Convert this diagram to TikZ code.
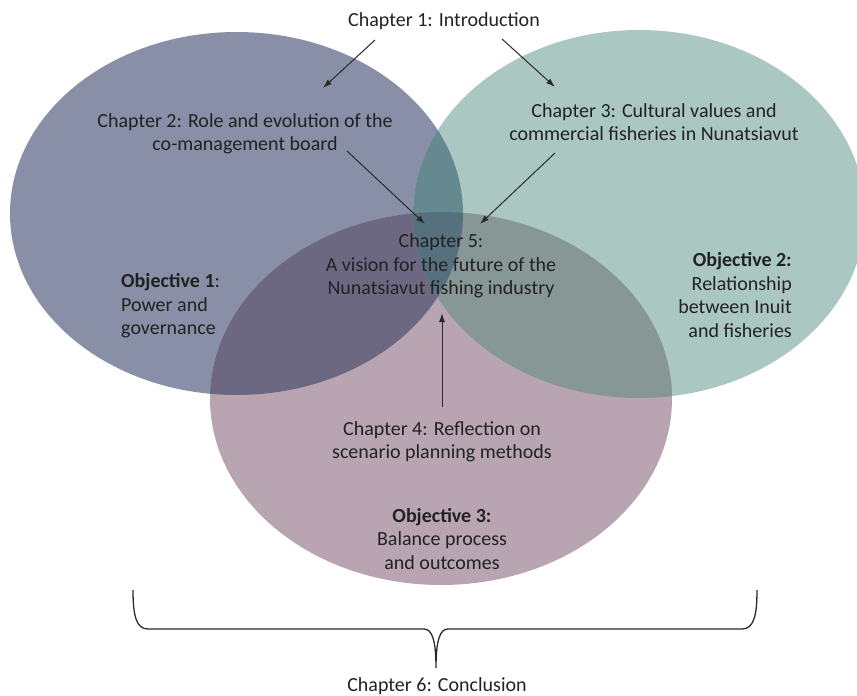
\documentclass[tikz,border=0pt]{standalone}
\usepackage{fontspec}
\setmainfont{Carlito}
\usetikzlibrary{arrows.meta}
\definecolor{cA}{HTML}{888FA6}
\definecolor{cB}{HTML}{AAC7C1}
\definecolor{cC}{HTML}{B9A5B1}
\definecolor{cAB}{HTML}{66898F}
\definecolor{cAC}{HTML}{6D6882}
\definecolor{cBC}{HTML}{879795}
\definecolor{cABC}{HTML}{56707E}
\definecolor{tcol}{HTML}{222222}
\definecolor{lcol}{HTML}{2A2A2A}
\begin{document}
\begin{tikzpicture}[x=1pt,y=-1pt,
  txt/.style={font=\fontsize{20}{23.5}\selectfont, text=tcol, inner sep=0pt, align=center},
  arr/.style={-{Latex[length=9pt,width=6pt]}, line width=1pt, draw=lcol},
  bracestyle/.style={line width=1.3pt, draw=lcol}]
\useasboundingbox (0,0) rectangle (857,696);
\clip (0,0) rectangle (857,696);
% circles
\fill[cA] (236.5,213.5) ellipse [x radius=226.5, y radius=181.5];
\fill[cB] (639,214) ellipse [x radius=226, y radius=184];
\fill[cC] (441,398.5) ellipse [x radius=231, y radius=186.5];
\begin{scope}
  \clip (236.5,213.5) ellipse [x radius=226.5, y radius=181.5];
  \fill[cAB] (639,214) ellipse [x radius=226, y radius=184];
\end{scope}
\begin{scope}
  \clip (236.5,213.5) ellipse [x radius=226.5, y radius=181.5];
  \fill[cAC] (441,398.5) ellipse [x radius=231, y radius=186.5];
\end{scope}
\begin{scope}
  \clip (639,214) ellipse [x radius=226, y radius=184];
  \fill[cBC] (441,398.5) ellipse [x radius=231, y radius=186.5];
\end{scope}
\begin{scope}
  \clip (236.5,213.5) ellipse [x radius=226.5, y radius=181.5];
  \clip (639,214) ellipse [x radius=226, y radius=184];
  \fill[cABC] (441,398.5) ellipse [x radius=231, y radius=186.5];
\end{scope}
% texts
\node[txt] (ch1) at (444,21) {Chapter 1: Introduction};
\node[txt] (ch2) at (245,134) {Chapter 2: Role and evolution of the\\co-management board};
\node[txt] (ch3) at (654,122) {Chapter 3: Cultural values and\\commercial fisheries in Nunatsiavut};
\node[txt] (ch5) at (441,266) {Chapter 5:\\A vision for the future of the\\Nunatsiavut fishing industry};
\node[txt, align=left, anchor=west] (obj1) at (121,306) {\textbf{Objective 1}:\\Power and\\governance};
\node[txt, align=right, anchor=east] (obj2) at (792,295) {\textbf{Objective 2:}\\Relationship\\between Inuit\\and fisheries};
\node[txt] (ch4) at (442,442) {Chapter 4: Reflection on\\scenario planning methods};
\node[txt] (obj3) at (442,539) {\textbf{Objective 3:}\\Balance process\\and outcomes};
\node[txt] (ch6) at (437,686) {Chapter 6: Conclusion};
% arrow end points
\coordinate (a1s) at (375,40);
\coordinate (a1e) at (323,88);
\coordinate (a2s) at (502,39);
\coordinate (a2e) at (555,87);
\coordinate (a3s) at (347,151);
\coordinate (a3e) at (425,224);
\coordinate (a4s) at (555,153);
\coordinate (a4e) at (480,224);
\coordinate (a5s) at (442,407);
\coordinate (a5e) at (442,313);
\draw[arr] (a1s) -- (a1e);
\draw[arr] (a2s) -- (a2e);
\draw[arr] (a3s) -- (a3e);
\draw[arr] (a4s) -- (a4e);
\draw[arr] (a5s) -- (a5e);
% brace
\coordinate (bl) at (133,590);
\coordinate (br) at (757,590);
\coordinate (bt) at (436,668);
\draw[bracestyle] (bl) .. controls (133,615) and (136,629) .. (148,629) -- (424,629)
  .. controls (432,629) and (436,640) .. (bt)
  .. controls (436,640) and (440,629) .. (448,629) -- (742,629)
  .. controls (754,629) and (757,615) .. (br);
\end{tikzpicture}
\end{document}
